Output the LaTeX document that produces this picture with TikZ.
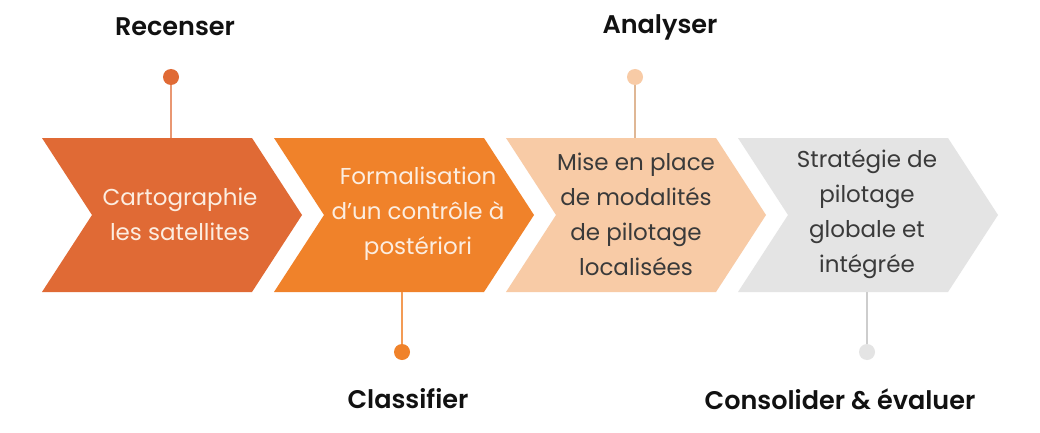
\documentclass[tikz,border=0pt]{standalone}
\usepackage{fontspec}
\setmainfont{Poppins}
\newfontfamily\popbold{Poppins}[UprightFont=* SemiBold]
\definecolor{cOne}{HTML}{E06A35}
\definecolor{cTwo}{HTML}{F0822A}
\definecolor{cThree}{HTML}{F8CBA6}
\definecolor{cFour}{HTML}{E4E4E4}
\definecolor{txtLight}{HTML}{FCEDE0}
\definecolor{txtDark}{HTML}{3A3A3A}
\definecolor{lblCol}{HTML}{111111}
\tikzset{
  chevtext/.style={align=center, font=\fontsize{23}{35}\selectfont, inner sep=0pt},
  steplabel/.style={font=\popbold\fontsize{25.5}{28}\selectfont, text=lblCol, inner sep=0pt},
  stepdot/.style={circle, inner sep=0pt, minimum size=16pt},
  stemline/.style={line width=1.2pt}
}
\begin{document}
\begin{tikzpicture}[x=1pt,y=-1pt]
\useasboundingbox (0,0) rectangle (1040,433);
\fill[white] (0,0) rectangle (1040,433);
% chevrons
\foreach \x/\c in {42/cOne,274/cTwo,506/cThree,738/cFour}{
  \fill[\c] (\x,138) -- (\x+210,138) -- (\x+260,215) -- (\x+210,292) -- (\x,292) -- (\x+50,215) -- cycle;
}
% anchor coordinates on chevron edges
\coordinate (top1) at (171,138);
\coordinate (bot2) at (402,292);
\coordinate (top3) at (635,138);
\coordinate (bot4) at (867,292);
% texts
\node[chevtext, text=txtLight] (t1) at (180,214) {Cartographie\\les satellites};
\node[chevtext, text=txtLight] (t2) at (418,214) {Formalisation\\d'un contrôle à\\postériori};
\node[chevtext, text=txtDark] (t3) at (636,214) {Mise en place\\de modalités\\de pilotage\\localisées};
\node[chevtext, text=txtDark] (t4) at (867,214) {Stratégie de\\pilotage\\globale et\\intégrée};
% dots
\node[stepdot, fill=cOne] (d1) at (171,77) {};
\node[stepdot, fill=cTwo] (d2) at (402,352) {};
\node[stepdot, fill=cThree] (d3) at (635,77) {};
\node[stepdot, fill=cFour] (d4) at (867,352) {};
\draw[stemline, draw=cOne!70] (d1) -- (top1);
\draw[stemline, draw=cTwo!80] (bot2) -- (d2);
\draw[stemline, draw=cThree!90!black] (d3) -- (top3);
\draw[stemline, draw=cFour!90!black] (bot4) -- (d4);
% labels
\node[steplabel] (l1) at (175,27) {Recenser};
\node[steplabel] (l2) at (408,399) {Classifier};
\node[steplabel] (l3) at (660,27) {Analyser};
\node[steplabel] (l4) at (840,399) {Consolider \& évaluer};
\end{tikzpicture}
\end{document}
